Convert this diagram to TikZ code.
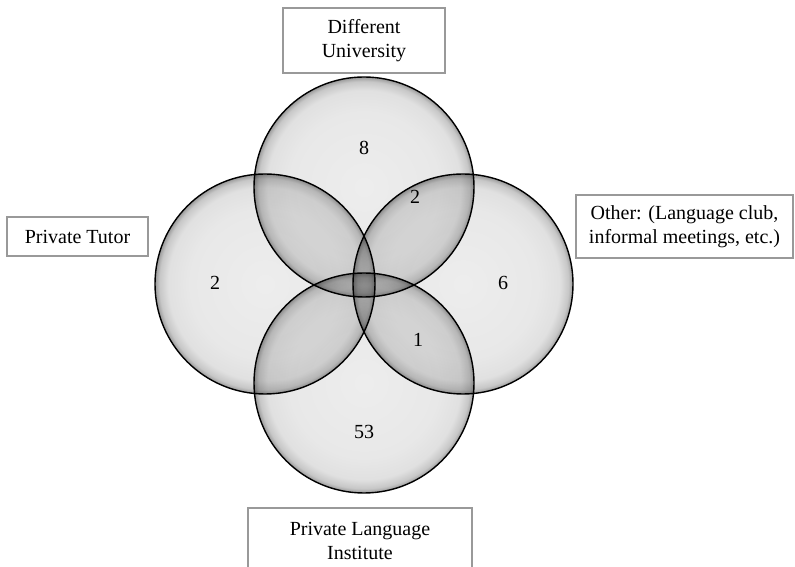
\documentclass[tikz,border=0pt]{standalone}
\usepackage{fontspec}
\setmainfont{Liberation Serif}
\usepackage{tikz}
\usetikzlibrary{shapes}
\pgfdeclareradialshading{glossy}{\pgfpoint{0bp}{0bp}}{color(0bp)=(black!7); color(17bp)=(black!9); color(22bp)=(black!12); color(24bp)=(black!22); color(25bp)=(black!40); color(50bp)=(black!40)}
\begin{document}
\begin{tikzpicture}[x=1pt,y=1pt,
  venn/.style={circle,draw=black,line width=1.4pt,minimum size=220pt,inner sep=0pt,shading=glossy},
  lbl/.style={draw=black!40,line width=1.6pt,fill=white,align=center,inner sep=0pt,font=\fontsize{20}{24}\selectfont},
  num/.style={font=\fontsize{20}{24}\selectfont}]
\useasboundingbox (0,0) rectangle (795,567);
\begin{scope}[blend group=multiply]
\node[venn] (U) at (364,380) {};
\node[venn] (T) at (265,283) {};
\node[venn] (O) at (463,283) {};
\node[venn] (I) at (364,184) {};
\end{scope}
% labels
\node[lbl,minimum width=162pt,minimum height=65pt] (Ub) at (364,526.5) {Different\\University};
\node[lbl,minimum width=141pt,minimum height=39pt] (Tb) at (77.5,330.5) {Private Tutor};
\node[lbl,minimum width=217pt,minimum height=63pt] (Ob) at (684.5,340.5) {Other: (Language club,\\informal meetings, etc.)};
\node[lbl,minimum width=224pt,minimum height=65pt] (Ib) at (360,26.5) {Private Language\\Institute};
% counts
\node[num] (nU) at (364,419) {8};
\node[num] (nT) at (215,284) {2};
\node[num] (nUO) at (415,370) {2};
\node[num] (nO) at (503,284) {6};
\node[num] (nOI) at (418,227) {1};
\node[num] (nI) at (364,135) {53};
\end{tikzpicture}
\end{document}
